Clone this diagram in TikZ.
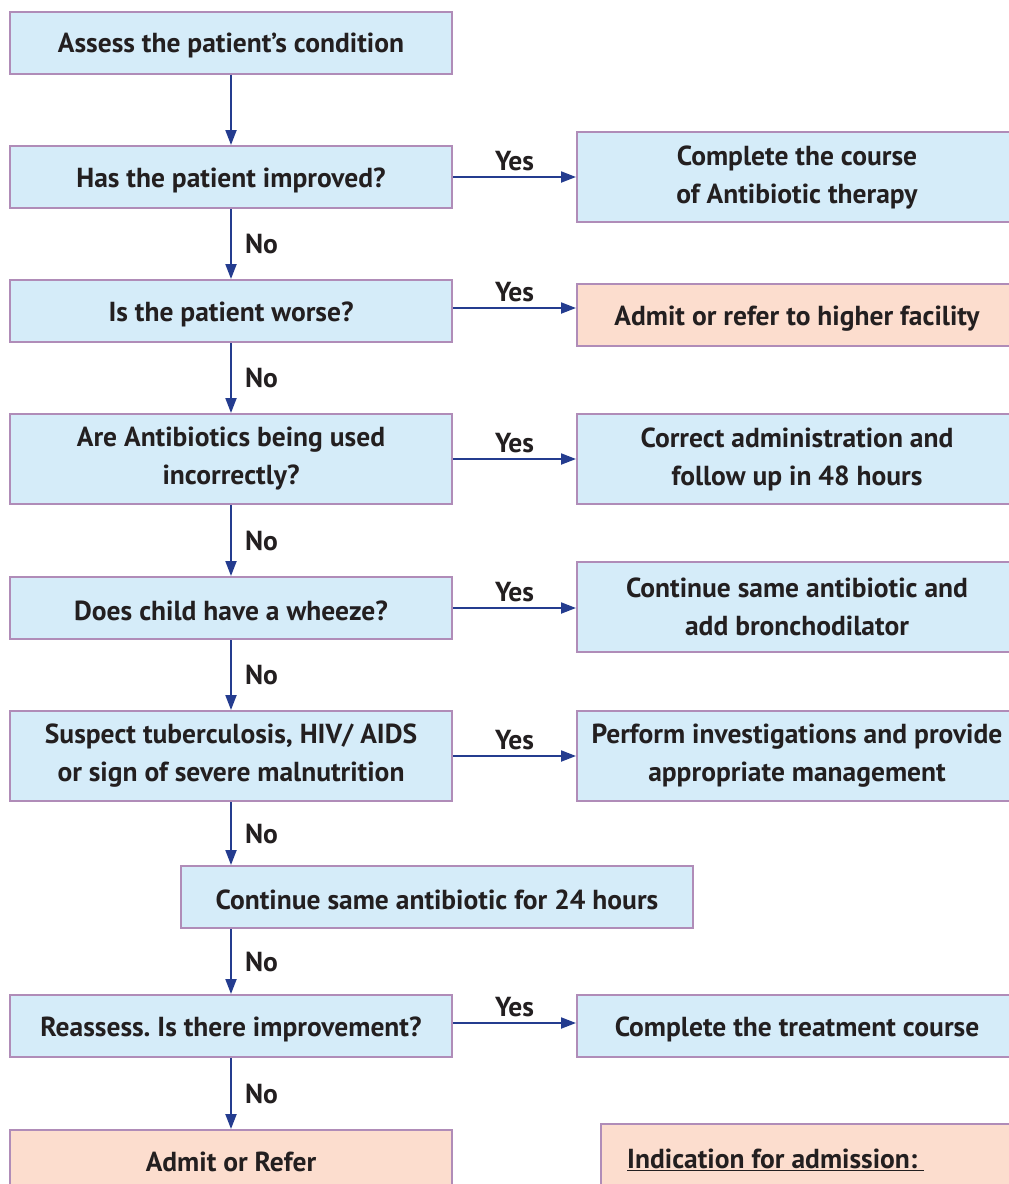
\documentclass[tikz,border=0pt]{standalone}
\usepackage{fontspec}
\setmainfont{PT Sans}
\frenchspacing
\usetikzlibrary{arrows.meta}
\definecolor{boxblue}{HTML}{D5ECF9}
\definecolor{boxpeach}{HTML}{FCDDCE}
\definecolor{boxedge}{HTML}{B08CB8}
\definecolor{arrowblue}{HTML}{243C8F}
\definecolor{ink}{HTML}{231F20}
\tikzset{
  base/.style={draw=boxedge, line width=2pt, inner sep=0pt, align=center,
    text=ink, font=\fontsize{27.5}{38}\selectfont\bfseries},
  bluebox/.style={base, fill=boxblue},
  peachbox/.style={base, fill=boxpeach},
  leftbox/.style={minimum width=442pt},
  rightbox/.style={minimum width=440pt},
  one/.style={minimum height=62pt, execute at begin node={\rule{0pt}{26pt}}},
  two/.style={minimum height=90pt, execute at begin node={\rule{0pt}{31pt}}},
  flow/.style={draw=arrowblue, line width=2pt,
    -{Triangle[length=15pt,width=11pt]}},
  lab/.style={text=ink, font=\fontsize{27.5}{30}\selectfont\bfseries, inner sep=0pt},
}
\begin{document}
\begin{tikzpicture}[x=1pt,y=-1pt]
\useasboundingbox (0,0) rectangle (1009,1184);
\clip (0,0) rectangle (1009,1184);
\fill[white] (0,0) rectangle (1009,1184);

% main column
\node[bluebox,leftbox,one] (b1) at (231,42.5) {Assess the patient’s condition};
\node[bluebox,leftbox,one] (b2) at (231,177) {Has the patient improved?};
\node[bluebox,leftbox,one] (b3) at (231,311) {Is the patient worse?};
\node[bluebox,leftbox,two] (b4) at (231,459) {Are Antibiotics being used\\incorrectly?};
\node[bluebox,leftbox,one] (b5) at (231,608) {Does child have a wheeze?};
\node[bluebox,leftbox,two] (b6) at (231,756) {Suspect tuberculosis, HIV/ AIDS\\or sign of severe malnutrition};
\node[bluebox,minimum width=512pt,one] (b7) at (437,897) {Continue same antibiotic for 24 hours};
\node[bluebox,leftbox,one] (b8) at (231,1026) {Reassess. Is there improvement?};
\node[peachbox,leftbox,minimum height=80pt,anchor=north] (b9) at (231,1129) {};
\node[lab] at (231,1162) {Admit or Refer};

% outcome column
\node[bluebox,rightbox,two] (r1) at (797,177) {Complete the course\\of Antibiotic therapy};
\node[peachbox,rightbox,one] (r2) at (797,315) {Admit or refer to higher facility};
\node[bluebox,rightbox,two] (r3) at (797,459) {Correct administration and\\follow up in 48 hours};
\node[bluebox,rightbox,two] (r4) at (797,607) {Continue same antibiotic and\\add bronchodilator};
\node[bluebox,rightbox,two] (r5) at (797,756) {Perform investigations and provide\\appropriate management};
\node[bluebox,rightbox,one] (r6) at (797,1026) {Complete the treatment course};
\node[peachbox,minimum width=440pt,minimum height=90pt,anchor=north west] (r7) at (600,1123) {};
\node[lab,anchor=base west] at (627,1168) {\underline{Indication for admission:\ }};

% vertical connectors
\draw[flow] (b1.south) -- (b2.north);
\draw[flow] (b2.south) -- node[lab,right=13pt] {No} (b3.north);
\draw[flow] (b3.south) -- node[lab,right=13pt] {No} (b4.north);
\draw[flow] (b4.south) -- node[lab,right=13pt] {No} (b5.north);
\draw[flow] (b5.south) -- node[lab,right=13pt] {No} (b6.north);
\draw[flow] (b6.south) -- node[lab,right=13pt] {No} (b6.south |- b7.north);
\draw[flow] (b6.south |- b7.south) -- node[lab,right=13pt] {No} (b8.north);
\draw[flow] (b8.south) -- node[lab,right=13pt] {No} (b9.north);

% horizontal connectors
\draw[flow] (b2.east) -- node[lab,above=5pt] {Yes} (b2.east -| r1.west);
\draw[flow] ([yshift=3pt]b3.east) -- node[lab,above=5pt] {Yes} ([yshift=3pt]b3.east -| r2.west);
\draw[flow] (b4.east) -- node[lab,above=5pt] {Yes} (b4.east -| r3.west);
\draw[flow] (b5.east) -- node[lab,above=5pt] {Yes} (b5.east -| r4.west);
\draw[flow] (b6.east) -- node[lab,above=5pt] {Yes} (b6.east -| r5.west);
\draw[flow] ([yshift=3pt]b8.east) -- node[lab,above=5pt] {Yes} ([yshift=3pt]b8.east -| r6.west);
\end{tikzpicture}
\end{document}
